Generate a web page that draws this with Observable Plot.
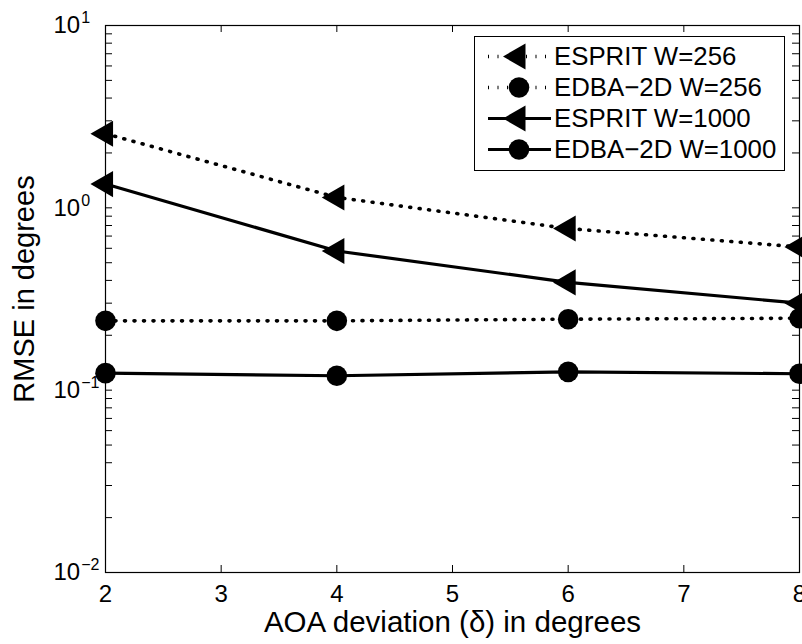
<!DOCTYPE html>
<html>
<head>
<meta charset="utf-8">
<script src="https://cdn.jsdelivr.net/npm/d3@7"></script>
<script src="https://cdn.jsdelivr.net/npm/@observablehq/plot@0.6"></script>
<style>
  html, body { margin: 0; padding: 0; background: white; overflow: hidden; }
  #wrap { position: relative; width: 802px; height: 644px; font-family: "Liberation Sans", Arial, Helvetica, sans-serif; }
  #legend { position: absolute; left: 474px; top: 36px; width: 309px; height: 129px; border: 1px solid black; background: white; padding-top: 4px; box-sizing: content-box; }
  .row { display: flex; align-items: center; height: 31px; }
  .row svg { flex: none; margin-left: 10px; }
  .row span { font-size: 25.8px; margin-left: 3px; white-space: nowrap; color: black; }
</style>
</head>
<body>
<div id="wrap"></div>
<script>
// ---- data ----
const deltas = [2, 4, 6, 8];
const espritW256 = [2.55, 1.14, 0.77, 0.61];
const edbaW256 = [0.24, 0.24, 0.245, 0.248];
const espritW1000 = [1.35, 0.58, 0.39, 0.30];
const edbaW1000 = [0.124, 0.12, 0.126, 0.123];
const seriesNames = ["ESPRIT W=256", "EDBA\u22122D W=256", "ESPRIT W=1000", "EDBA\u22122D W=1000"];
const seriesMarkers = ["triangle", "circle", "triangle", "circle"];
const seriesDotted = [true, true, false, false];
const xTicks = [2, 3, 4, 5, 6, 7, 8];
const yMajorTicks = [0.01, 0.1, 1, 10];
const yTickExponents = ["\u22122", "\u22121", "0", "1"];
const yMinorMultipliers = [2, 3, 4, 5, 6, 7, 8, 9];
const xLabel = "AOA deviation (\u03b4) in degrees";
const yLabel = "RMSE in degrees";

const seriesValues = [espritW256, edbaW256, espritW1000, edbaW1000];
const data = seriesNames.flatMap((name, i) => deltas.map((d, j) => ({
  series: name, x: d, y: seriesValues[i][j]
})));
const yMinorTicks = yMajorTicks.slice(0, -1).flatMap(t => yMinorMultipliers.map(m => t * m));
const yAllTicks = yMajorTicks.concat(yMinorTicks);

const W = 802, H = 644, mL = 105, mR = 3, mT = 25, mB = 72;
const pw = W - mL - mR, ph = H - mT - mB;
const tickLen = 7;
const solidW = 3.2, dotW = 3.6, dash = "1,8.5";

const marks = [];
seriesNames.forEach((name, i) => {
  const rows = data.filter(d => d.series === name);
  marks.push(Plot.line(rows, {x: "x", y: "y", stroke: "black",
    strokeWidth: seriesDotted[i] ? dotW : solidW,
    strokeDasharray: seriesDotted[i] ? dash : null}));
});
seriesNames.forEach((name, i) => {
  const rows = data.filter(d => d.series === name);
  if (seriesMarkers[i] === "triangle") {
    marks.push(Plot.dot(rows, {x: "x", y: "y", symbol: "triangle", r: 9.7, rotate: -90, fill: "black", stroke: null}));
  } else {
    marks.push(Plot.dot(rows, {x: "x", y: "y", symbol: "circle", r: 10.3, fill: "black", stroke: null}));
  }
});

const chart = Plot.plot({
  width: W, height: H,
  marginLeft: mL, marginRight: mR, marginTop: mT, marginBottom: mB,
  style: {fontFamily: "'Liberation Sans', Arial, Helvetica, sans-serif", color: "black", background: "white", overflow: "hidden"},
  x: {domain: [2, 8]},
  y: {type: "log", domain: [0.01, 10]},
  marks: [
    Plot.frame({stroke: "black", strokeWidth: 1.2}),
    // inward ticks, all four sides
    Plot.tickX(xTicks, {x: d => d, stroke: "black", strokeWidth: 1, insetTop: ph - tickLen}),
    Plot.tickX(xTicks, {x: d => d, stroke: "black", strokeWidth: 1, insetBottom: ph - tickLen}),
    Plot.tickY(yAllTicks, {y: d => d, stroke: "black", strokeWidth: 1, insetRight: pw - tickLen}),
    Plot.tickY(yAllTicks, {y: d => d, stroke: "black", strokeWidth: 1, insetLeft: pw - tickLen}),
    Plot.axisX({ticks: xTicks, tickSize: 0, tickPadding: 12, fontSize: 24, label: null, tickFormat: d => String(d)}),
    Plot.axisY({ticks: yMajorTicks, tickSize: 0, tickPadding: 6, fontSize: 24, label: null,
      tickFormat: d => "10^" + yTickExponents[yMajorTicks.indexOf(d)]}),
    Plot.text([xLabel], {text: d => d, frameAnchor: "bottom", textAnchor: "middle", dy: 50, fontSize: 29.5, lineAnchor: "middle", fill: "black"}),
    Plot.text([yLabel], {text: d => d, frameAnchor: "left", textAnchor: "middle", dx: -81, dy: -10, rotate: -90, fontSize: 29, lineAnchor: "middle", fill: "black"}),
    ...marks
  ]
});

// superscript exponents on log tick labels ("10" left-aligned, exponent after it)
chart.querySelectorAll('g[aria-label="y-axis tick label"] text').forEach(t => {
  const s = t.textContent;
  if (s.startsWith("10^")) {
    const exp = s.slice(3);
    t.textContent = "10";
    t.setAttribute("text-anchor", "start");
    t.setAttribute("dx", "-46");
    const ts = document.createElementNS("http://www.w3.org/2000/svg", "tspan");
    ts.setAttribute("dy", "-10");
    ts.setAttribute("dx", "1");
    ts.setAttribute("font-size", "16");
    ts.textContent = exp;
    t.appendChild(ts);
  }
});

const wrap = document.getElementById("wrap");
wrap.appendChild(chart);

// legend
const legend = document.createElement("div");
legend.id = "legend";
seriesNames.forEach((name, i) => {
  const row = document.createElement("div");
  row.className = "row";
  const svg = d3.create("svg").attr("width", 66).attr("height", 31);
  svg.append("line").attr("x1", 3).attr("x2", 66).attr("y1", 15.5).attr("y2", 15.5)
    .attr("stroke", "black").attr("stroke-width", seriesDotted[i] ? dotW : solidW)
    .attr("stroke-dasharray", seriesDotted[i] ? dash : null);
  if (seriesMarkers[i] === "triangle") {
    svg.append("path").attr("d", "M-15,0L7.5,-13L7.5,13Z").attr("transform", "translate(33,15.5)").attr("fill", "black");
  } else {
    svg.append("circle").attr("cx", 34).attr("cy", 15.5).attr("r", 10.3).attr("fill", "black");
  }
  row.appendChild(svg.node());
  const sp = document.createElement("span");
  sp.textContent = name;
  row.appendChild(sp);
  legend.appendChild(row);
});
wrap.appendChild(legend);
</script>
</body>
</html>
